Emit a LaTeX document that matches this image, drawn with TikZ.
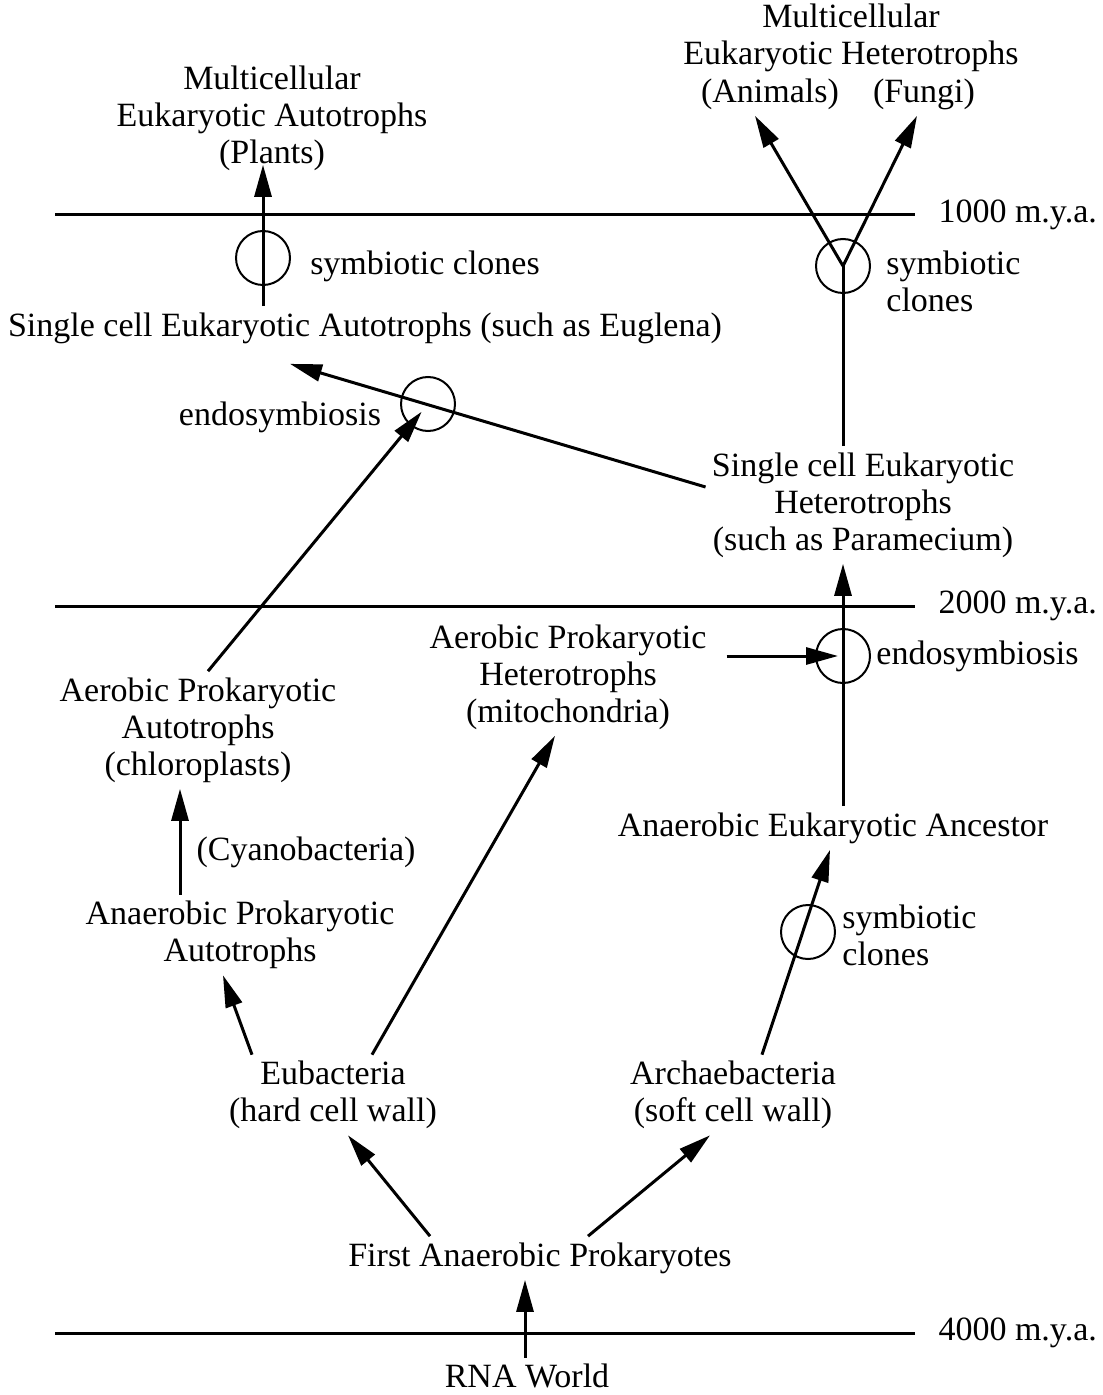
\documentclass[tikz,border=0pt]{standalone}
\usepackage{fontspec}
\setmainfont{Liberation Serif}
\usetikzlibrary{arrows.meta}

\begin{document}
\begin{tikzpicture}[x=0.5pt, y=-0.5pt,
    txt/.style={align=center, inner sep=3pt, font=\fontsize{17}{18.5}\selectfont},
    side/.style={txt, align=left, anchor=west},
    ring/.style={draw, circle, line width=1pt, minimum size=27pt, inner sep=0pt},
    arr/.style={line width=1.5pt, -{Triangle[length=16pt, width=8.5pt]}},
    link/.style={line width=1.5pt},
    timeline/.style={line width=1.5pt},
    yrlabel/.style={txt, anchor=west, xshift=8pt}]
        \useasboundingbox (0,0) rectangle (1102,1395);

        % time lines
        \draw[timeline] (55,215) -- (915,215) node[yrlabel] (y1000) {1000 m.y.a.};
        \draw[timeline] (55,606) -- (915,606) node[yrlabel] (y2000) {2000 m.y.a.};
        \draw[timeline] (55,1333) -- (915,1333) node[yrlabel] (y4000) {4000 m.y.a.};

        \node[txt] (plants) at (272,118) {Multicellular\\Eukaryotic Autotrophs\\(Plants)};
        \node[txt] (hetero) at (851,38) {Multicellular\\Eukaryotic Heterotrophs};
        \node[txt] (animals) at (770,94) {(Animals)};
        \node[txt] (fungi) at (924,94) {(Fungi)};
        \node[txt] (euglena) at (365,328) {Single cell Eukaryotic Autotrophs (such as Euglena)};
        \node[txt] (paramecium) at (863,505) {Single cell Eukaryotic\\Heterotrophs\\(such as Paramecium)};
        \node[txt] (mito) at (568,677) {Aerobic Prokaryotic\\Heterotrophs\\(mitochondria)};
        \node[txt] (chloro) at (198,730) {Aerobic Prokaryotic\\Autotrophs\\(chloroplasts)};
        \node[txt] (anaeuk) at (833,828) {Anaerobic Eukaryotic Ancestor};
        \node[txt] (anaprok) at (240,935) {Anaerobic Prokaryotic\\Autotrophs};
        \node[txt] (eubact) at (333,1095) {Eubacteria\\(hard cell wall)};
        \node[txt] (archae) at (733,1095) {Archaebacteria\\(soft cell wall)};
        \node[txt] (first) at (540,1258) {First Anaerobic Prokaryotes};
        \node[txt] (rna) at (527,1376) {RNA World};

        \node[ring] (ringA) at (263,258) {};
        \node[ring] (ringB) at (843,266) {};
        \node[ring] (ringC) at (428,404) {};
        \node[ring] (ringD) at (843,656) {};
        \node[ring] (ringE) at (808,932) {};

        \node[txt] (clonesA) at (425,266) {symbiotic clones};
        \node[side] (clonesB) at (880,281) {symbiotic\\clones};
        \node[txt] (endoA) at (280,417) {endosymbiosis};
        \node[side] (endoB) at (870,656) {endosymbiosis};
        \node[txt] (cyano) at (306,852) {(Cyanobacteria)};
        \node[side] (clonesC) at (836,935) {symbiotic\\clones};

        \draw[arr] ([xshift=-1pt]rna.north) -- ([xshift=-7.5pt]first.south);
        \draw[arr] ([xshift=-55pt]first.north) -- ([xshift=7.5pt]eubact.south);
        \draw[arr] ([xshift=24pt]first.north) -- ([xshift=-11.5pt]archae.south);
        \draw[arr] ([xshift=-40.5pt]eubact.north) -- ([xshift=-8.5pt]anaprok.south);
        \draw[arr] ([xshift=19.5pt]eubact.north) -- ([xshift=-6.5pt]mito.south);
        \draw[arr] ([xshift=-30pt]anaprok.north) -- ([xshift=-9pt]chloro.south);
        \draw[arr] ([xshift=14.5pt]archae.north) -- ([xshift=-1.5pt]anaeuk.south);
        \draw[arr] ([xshift=5pt]anaeuk.north) -- ([xshift=-10pt]paramecium.south);
        \draw[arr, shorten <=7pt, shorten >=2.5pt] (mito.east |- ringD.center) -- (ringD.center);
        \draw[link] ([xshift=-10pt]paramecium.north) -- (ringB.center);
        \draw[arr] (ringB.center) -- ([xshift=-7.5pt]animals.south);
        \draw[arr] (ringB.center) -- ([xshift=-3.5pt]fungi.south);
        \draw[arr] ([yshift=9pt]paramecium.west) -- ([xshift=-37.5pt, yshift=-7pt]euglena.south);
        \draw[arr, shorten >=5pt] ([xshift=5pt]chloro.north) -- (ringC.center);
        \draw[arr] ([xshift=-51pt]euglena.north) -- ([xshift=-4.5pt, yshift=6pt]plants.south);
    \end{tikzpicture}
\end{document}
